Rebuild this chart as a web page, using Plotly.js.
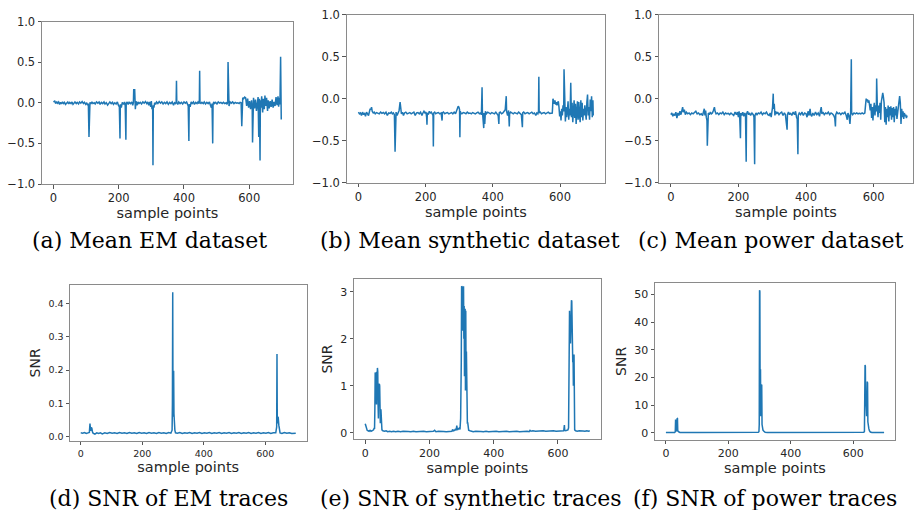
<!DOCTYPE html>
<html>
<head>
<meta charset="utf-8">
<script src="https://cdn.plot.ly/plotly-3.0.1.min.js"></script>
<style>html,body{margin:0;padding:0;background:#fff;}#chart{width:914px;height:510px;}</style>
</head>
<body>
<div id="chart"></div>
<script>
// ---- Data (sample index, value) ----
const meanEM = [
[0,0.01],[4,0.02],[7,-0.01],[10,0.015],[13,-0.005],[16,0.01],[19,-0.02],[22,0.005],[25,-0.015],[28,0.01],
[31,-0.01],[34,0.005],[37,-0.02],[40,0.0],[44,0.01],[47,-0.015],[50,0.005],[54,-0.01],[57,0.01],[60,-0.02],
[63,0.0],[66,0.01],[70,-0.01],[73,0.005],[77,-0.015],[80,0.01],[84,-0.005],[88,0.015],[92,-0.01],[95,0.005],
[99,-0.02],[102,0.0],[105,-0.03],[107,-0.01],[109,-0.42],[110,-0.02],[112,0.005],[115,-0.015],[118,0.01],[121,-0.01],
[125,0.0],[128,-0.015],[132,0.01],[136,-0.005],[140,0.01],[143,-0.02],[147,0.005],[151,-0.01],[155,0.01],[158,-0.015],
[162,0.0],[166,-0.03],[169,-0.01],[173,0.01],[177,-0.01],[181,0.005],[184,-0.02],[188,0.0],[192,-0.015],[196,0.01],
[199,-0.03],[202,-0.05],[204,-0.44],[205,-0.02],[208,-0.06],[211,0.005],[215,-0.02],[218,0.01],[220,-0.04],[222,-0.455],
[223,-0.01],[226,0.01],[229,-0.02],[232,0.005],[236,-0.01],[240,0.01],[243,-0.03],[245,0.0],[246,0.16],[249,0.16],
[251,-0.08],[253,0.02],[256,-0.03],[259,0.01],[262,-0.01],[266,0.005],[270,-0.015],[274,0.01],[278,-0.005],[282,0.015],
[286,-0.01],[289,0.01],[292,-0.03],[295,0.01],[298,-0.05],[300,0.02],[302,-0.08],[304,-0.05],[305,-0.77],[306,-0.03],
[308,-0.06],[310,0.0],[313,-0.02],[316,0.01],[320,-0.01],[324,0.015],[328,-0.005],[332,0.01],[336,-0.015],[340,0.005],
[344,-0.01],[348,0.01],[352,-0.02],[356,0.005],[360,-0.01],[364,0.01],[368,-0.03],[371,0.0],[374,-0.01],[376,0.01],
[377,0.27],[378,0.0],[381,-0.02],[384,0.01],[388,-0.01],[392,0.005],[396,-0.015],[400,0.01],[404,-0.005],[408,0.01],
[411,-0.02],[413,-0.04],[415,-0.47],[416,-0.02],[419,-0.05],[422,0.01],[425,-0.01],[429,0.01],[432,-0.02],[436,0.005],
[440,-0.01],[443,0.01],[446,-0.01],[447,0.0],[448,0.395],[449,0.0],[452,-0.01],[455,0.005],[459,-0.01],[462,0.01],
[466,-0.015],[470,0.005],[474,-0.01],[478,0.01],[481,-0.03],[484,-0.06],[486,-0.01],[488,-0.5],[489,-0.03],[491,0.01],
[494,-0.01],[497,0.005],[501,-0.015],[505,0.01],[509,-0.005],[513,0.005],[517,-0.01],[521,0.005],[525,-0.01],[529,0.0],
[532,-0.02],[534,0.02],[535,0.5],[536,0.0],[538,-0.04],[541,0.01],[545,-0.005],[549,0.01],[553,-0.01],[557,0.005],
[561,-0.005],[565,0.0],[569,-0.01],[572,0.005],[575,0.0],[577,-0.29],[578,0.0],[580,0.06],[583,0.05],[586,0.07],
[589,0.06],[592,-0.04],[595,0.05],[598,-0.06],[601,0.02],[604,-0.08],[607,0.03],[609,-0.05],[610,-0.49],[611,-0.02],
[613,0.06],[616,-0.07],[619,0.04],[622,-0.1],[625,0.02],[627,0.07],[629,-0.42],[631,0.05],[633,-0.71],[634,0.03],
[636,-0.06],[638,0.08],[641,-0.12],[643,0.05],[646,-0.08],[648,0.09],[650,-0.04],[653,0.06],[656,-0.1],[658,0.03],
[661,-0.07],[664,0.02],[667,-0.05],[670,0.04],[673,-0.06],[676,0.01],[679,-0.04],[682,0.07],[685,-0.03],[688,0.08],
[690,-0.05],[692,0.06],[694,-0.02],[696,0.565],[698,-0.205]
];

const meanSynthetic = [
[0,-0.16],[3,-0.18],[6,-0.17],[9,-0.2],[12,-0.16],[15,-0.19],[18,-0.17],[21,-0.21],[24,-0.16],[27,-0.18],
[30,-0.2],[33,-0.15],[35,-0.12],[37,-0.13],[39,-0.1],[41,-0.15],[44,-0.17],[47,-0.16],[50,-0.18],[54,-0.165],
[58,-0.17],[62,-0.18],[66,-0.16],[70,-0.175],[74,-0.165],[78,-0.18],[82,-0.16],[86,-0.2],[90,-0.17],[94,-0.175],
[98,-0.16],[101,-0.18],[104,-0.17],[107,-0.19],[109,-0.63],[110,-0.18],[112,-0.16],[115,-0.2],[118,-0.17],[121,-0.14],
[124,-0.04],[126,-0.12],[128,-0.18],[131,-0.16],[134,-0.2],[137,-0.17],[141,-0.16],[145,-0.18],[149,-0.17],[153,-0.165],
[157,-0.18],[161,-0.17],[165,-0.16],[169,-0.2],[173,-0.17],[177,-0.165],[181,-0.18],[185,-0.16],[189,-0.2],[192,-0.17],
[195,-0.15],[198,-0.17],[201,-0.16],[203,-0.22],[204,-0.31],[205,-0.17],[208,-0.19],[211,-0.15],[214,-0.17],[217,-0.16],
[220,-0.18],[222,-0.2],[223,-0.57],[224,-0.17],[227,-0.16],[230,-0.18],[234,-0.17],[238,-0.165],[242,-0.18],[246,-0.17],
[249,-0.26],[250,-0.17],[253,-0.16],[257,-0.18],[261,-0.17],[265,-0.165],[269,-0.18],[273,-0.17],[277,-0.165],[281,-0.18],
[285,-0.16],[289,-0.18],[292,-0.15],[295,-0.12],[297,-0.09],[299,-0.1],[301,-0.13],[302,-0.46],[303,-0.15],[305,-0.17],
[308,-0.18],[312,-0.165],[316,-0.17],[320,-0.18],[324,-0.16],[328,-0.175],[332,-0.17],[336,-0.18],[340,-0.165],[344,-0.17],
[348,-0.18],[352,-0.17],[356,-0.16],[360,-0.18],[364,-0.17],[366,-0.19],[368,0.135],[369,-0.15],[371,-0.22],[373,-0.35],
[374,-0.17],[376,-0.3],[378,-0.15],[381,-0.18],[385,-0.16],[389,-0.17],[393,-0.18],[397,-0.165],[401,-0.17],[405,-0.18],
[409,-0.16],[413,-0.18],[416,-0.2],[418,-0.3],[419,-0.17],[422,-0.16],[426,-0.18],[430,-0.17],[434,-0.15],[437,-0.13],
[440,0.03],[441,-0.15],[444,-0.2],[447,-0.14],[449,-0.33],[450,-0.18],[453,-0.16],[457,-0.17],[461,-0.18],[465,-0.165],
[469,-0.17],[473,-0.18],[477,-0.16],[481,-0.17],[485,-0.19],[488,-0.34],[489,-0.17],[492,-0.16],[496,-0.18],[500,-0.17],
[504,-0.165],[508,-0.18],[512,-0.17],[516,-0.16],[520,-0.18],[524,-0.17],[528,-0.2],[531,-0.17],[534,-0.18],[536,-0.15],
[537,0.26],[538,-0.17],[541,-0.16],[545,-0.18],[549,-0.17],[553,-0.165],[557,-0.18],[561,-0.17],[565,-0.16],[569,-0.175],
[573,-0.17],[577,-0.17],[578,-0.1],[579,0.0],[581,-0.03],[583,-0.06],[585,-0.02],[587,-0.07],[589,-0.04],[591,-0.08],
[593,-0.05],[595,-0.03],[597,-0.1],[599,-0.21],[601,-0.15],[603,-0.26],[605,-0.12],[607,-0.2],[609,-0.08],[611,-0.15],
[612,0.35],[614,-0.2],[616,-0.27],[618,-0.1],[620,-0.22],[622,-0.15],[624,-0.03],[626,-0.25],[628,-0.12],[630,-0.2],
[632,0.19],[634,-0.22],[636,-0.05],[638,-0.28],[640,-0.1],[642,-0.02],[644,-0.23],[646,-0.06],[648,-0.3],[650,-0.14],
[652,-0.03],[654,-0.25],[656,-0.04],[658,-0.19],[660,-0.28],[662,-0.02],[664,-0.22],[666,-0.05],[668,-0.26],[670,-0.12],
[672,-0.2],[674,-0.08],[676,-0.22],[678,-0.25],[680,-0.04],[682,0.05],[684,-0.2],[686,-0.1],[688,-0.25],[690,-0.01],
[692,-0.15],[694,0.03],[696,-0.22],[698,-0.02],[699,-0.2]
];

const meanPower = [
[0,-0.19],[3,-0.17],[6,-0.21],[9,-0.18],[12,-0.2],[15,-0.16],[18,-0.23],[21,-0.17],[24,-0.2],[27,-0.15],
[30,-0.19],[33,-0.14],[35,-0.1],[37,-0.16],[40,-0.13],[43,-0.19],[46,-0.16],[50,-0.18],[54,-0.17],[58,-0.19],
[62,-0.17],[66,-0.18],[70,-0.16],[74,-0.15],[78,-0.18],[82,-0.17],[86,-0.19],[90,-0.18],[94,-0.2],[97,-0.15],
[99,-0.12],[101,-0.2],[103,-0.14],[105,-0.22],[107,-0.26],[108,-0.56],[109,-0.2],[111,-0.17],[114,-0.19],[117,-0.16],
[120,-0.18],[123,-0.17],[126,-0.14],[129,-0.1],[131,-0.15],[134,-0.18],[138,-0.17],[142,-0.19],[146,-0.17],[150,-0.18],
[154,-0.16],[158,-0.19],[162,-0.17],[166,-0.18],[170,-0.175],[174,-0.19],[178,-0.17],[182,-0.18],[186,-0.2],[190,-0.16],
[194,-0.19],[197,-0.16],[200,-0.22],[202,-0.15],[204,-0.24],[206,-0.47],[207,-0.17],[210,-0.2],[213,-0.16],[216,-0.21],
[219,-0.17],[221,-0.2],[223,-0.75],[224,-0.18],[227,-0.15],[230,-0.19],[233,-0.17],[236,-0.2],[240,-0.17],[244,-0.19],
[246,-0.22],[248,-0.78],[249,-0.2],[252,-0.17],[255,-0.19],[259,-0.17],[263,-0.18],[267,-0.16],[271,-0.19],[275,-0.17],
[279,-0.18],[283,-0.16],[287,-0.19],[291,-0.2],[294,-0.17],[297,-0.22],[299,-0.15],[301,-0.1],[303,0.06],[304,-0.12],
[306,-0.06],[308,-0.2],[310,-0.15],[313,-0.18],[316,-0.16],[320,-0.19],[324,-0.17],[328,-0.16],[332,-0.2],[336,-0.17],
[339,-0.19],[341,-0.24],[344,-0.37],[345,-0.19],[348,-0.16],[351,-0.19],[354,-0.17],[358,-0.2],[362,-0.16],[366,-0.19],
[369,-0.15],[372,-0.22],[374,-0.24],[376,-0.66],[377,-0.2],[380,-0.17],[384,-0.19],[388,-0.16],[392,-0.2],[396,-0.17],
[400,-0.18],[403,-0.22],[406,-0.15],[409,-0.2],[412,-0.12],[414,-0.19],[417,-0.21],[420,-0.17],[424,-0.2],[428,-0.16],
[432,-0.19],[436,-0.17],[440,-0.21],[443,-0.14],[445,-0.1],[447,-0.18],[450,-0.16],[454,-0.19],[458,-0.17],[462,-0.18],
[466,-0.16],[470,-0.19],[474,-0.17],[478,-0.18],[482,-0.2],[485,-0.23],[487,-0.33],[488,-0.19],[491,-0.16],[495,-0.18],
[499,-0.17],[503,-0.19],[507,-0.17],[511,-0.18],[515,-0.16],[519,-0.2],[522,-0.25],[524,-0.17],[527,-0.2],[530,-0.3],
[532,-0.18],[534,0.47],[535,-0.17],[538,-0.19],[542,-0.17],[546,-0.18],[550,-0.17],[554,-0.18],[558,-0.175],[562,-0.18],
[566,-0.17],[570,-0.18],[574,-0.17],[576,-0.08],[578,0.0],[580,-0.02],[582,-0.01],[584,-0.05],[586,-0.02],[588,-0.08],
[590,-0.14],[592,-0.06],[594,-0.23],[596,-0.1],[598,-0.26],[600,-0.12],[602,-0.05],[604,-0.2],[606,-0.08],[608,-0.15],
[609,0.24],[611,-0.1],[613,-0.22],[615,-0.08],[617,-0.17],[619,-0.05],[621,-0.25],[623,-0.03],[625,0.05],[627,0.07],
[629,0.02],[631,-0.05],[633,-0.28],[635,-0.1],[637,-0.31],[639,-0.12],[641,-0.22],[643,-0.08],[645,-0.27],[647,-0.1],
[649,-0.2],[651,-0.09],[653,-0.25],[655,-0.11],[657,-0.22],[659,-0.1],[661,-0.28],[663,-0.12],[665,-0.2],[667,-0.09],
[669,-0.24],[671,-0.15],[673,-0.07],[675,-0.02],[677,0.03],[679,-0.05],[681,-0.3],[683,-0.12],[685,-0.22],[687,-0.15],
[689,-0.24],[691,-0.17],[693,-0.21],[695,-0.19],[697,-0.23],[699,-0.2]
];

const snrEM = [
[0,0.012],[6,0.011],[12,0.013],[18,0.010],[24,0.012],[28,0.013],[30,0.04],[32,0.018],[34,0.028],[36,0.026],
[38,0.015],[40,0.011],[46,0.008],[52,0.012],[58,0.010],[64,0.012],[70,0.009],[78,0.012],[86,0.010],[94,0.013],
[102,0.011],[110,0.012],[118,0.010],[126,0.013],[134,0.011],[142,0.012],[150,0.010],[158,0.013],[166,0.011],[174,0.012],
[182,0.010],[190,0.013],[198,0.011],[206,0.012],[214,0.010],[222,0.013],[230,0.011],[238,0.012],[246,0.010],[254,0.013],
[262,0.011],[270,0.012],[278,0.010],[286,0.013],[293,0.011],[297,0.02],[298,0.1],[299,0.433],[300,0.06],[301,0.19],
[302,0.198],[303,0.07],[304,0.04],[306,0.02],[308,0.012],[314,0.011],[322,0.013],[330,0.010],[338,0.012],[346,0.011],
[354,0.013],[362,0.010],[370,0.012],[378,0.011],[386,0.013],[394,0.010],[402,0.012],[410,0.011],[418,0.013],[426,0.010],
[434,0.012],[442,0.011],[450,0.013],[458,0.010],[466,0.012],[474,0.011],[482,0.013],[490,0.010],[498,0.012],[506,0.011],
[514,0.013],[522,0.010],[530,0.012],[538,0.011],[546,0.013],[554,0.010],[562,0.012],[570,0.011],[578,0.013],[586,0.010],
[594,0.012],[602,0.011],[610,0.013],[618,0.010],[626,0.012],[634,0.012],[637,0.03],[638,0.248],[639,0.04],[640,0.05],
[641,0.06],[642,0.058],[644,0.035],[646,0.02],[648,0.012],[654,0.010],[662,0.013],[670,0.011],[678,0.012],[686,0.010],
[694,0.012],[699,0.011]
];

const snrSynthetic = [
[0,0.19],[2,0.12],[4,0.07],[6,0.05],[9,0.04],[12,0.03],[15,0.05],[18,0.03],[21,0.04],[24,0.06],
[26,0.06],[28,0.1],[29,0.08],[30,0.5],[31,1.28],[32,0.7],[33,1.25],[34,1.2],[35,0.6],[36,1.3],
[37,1.1],[38,1.38],[39,1.3],[40,0.6],[41,0.3],[42,1.05],[43,0.8],[44,1.04],[45,1.0],[46,0.3],
[47,0.2],[48,0.5],[49,0.48],[50,0.1],[52,0.06],[55,0.04],[60,0.03],[65,0.04],[70,0.02],[76,0.03],
[82,0.02],[88,0.03],[95,0.02],[102,0.03],[110,0.02],[118,0.03],[126,0.02],[134,0.025],[142,0.02],[150,0.03],
[158,0.02],[166,0.025],[174,0.02],[182,0.03],[190,0.02],[198,0.025],[206,0.02],[212,0.03],[216,0.05],[220,0.02],
[228,0.03],[236,0.02],[244,0.025],[252,0.02],[260,0.03],[266,0.04],[270,0.03],[272,0.07],[275,0.04],[278,0.05],
[281,0.08],[283,0.05],[285,0.15],[287,0.06],[290,0.08],[293,0.1],[295,0.07],[297,0.3],[299,1.5],[300,3.12],
[301,2.4],[302,3.1],[303,2.17],[304,3.12],[305,2.6],[306,3.12],[307,2.0],[308,2.7],[309,1.2],[311,2.64],
[312,0.9],[313,2.6],[314,1.0],[315,1.73],[316,0.5],[317,1.72],[318,0.19],[319,0.22],[320,0.12],[322,0.05],
[326,0.04],[330,0.03],[336,0.02],[344,0.03],[352,0.02],[360,0.025],[368,0.02],[376,0.03],[384,0.02],[392,0.025],
[400,0.02],[408,0.03],[416,0.02],[424,0.025],[432,0.02],[440,0.03],[448,0.02],[456,0.025],[464,0.02],[472,0.03],
[480,0.02],[488,0.025],[496,0.02],[504,0.03],[510,0.02],[513,0.05],[516,0.03],[522,0.04],[530,0.03],[538,0.035],
[546,0.03],[554,0.04],[562,0.03],[570,0.035],[578,0.03],[586,0.04],[594,0.03],[602,0.035],[610,0.03],[616,0.04],
[618,0.04],[620,0.16],[621,0.05],[624,0.04],[628,0.05],[631,0.06],[633,0.1],[634,2.6],[635,2.55],[636,2.6],
[637,2.2],[638,2.3],[639,1.9],[640,2.7],[641,2.4],[642,2.82],[643,2.8],[644,2.0],[645,2.3],[646,1.5],
[647,1.64],[648,1.0],[649,1.66],[650,1.65],[651,0.2],[652,0.06],[655,0.04],[660,0.03],[666,0.04],[672,0.03],
[678,0.035],[684,0.03],[690,0.04],[695,0.03],[699,0.04]
];

const snrPower = [
[0,0.1],[10,0.1],[20,0.1],[28,0.1],[30,0.4],[31,4.8],[32,0.8],[34,0.6],[36,5.3],[37,5.2],
[38,0.7],[40,0.4],[42,0.3],[45,0.15],[50,0.1],[100,0.1],[150,0.1],[200,0.1],[250,0.1],[290,0.1],
[296,0.2],[298,0.4],[299,3.0],[300,51.5],[301,51.0],[302,8.0],[303,23.0],[304,6.0],[305,12.0],[306,17.4],
[307,17.2],[308,3.0],[309,1.2],[311,1.0],[314,0.6],[318,0.2],[325,0.1],[400,0.1],[500,0.1],[600,0.1],
[630,0.1],[634,0.2],[636,0.5],[637,8.0],[638,24.5],[639,24.0],[640,9.6],[641,12.0],[643,6.0],[645,18.5],
[646,18.0],[647,4.0],[648,1.8],[650,1.6],[652,0.8],[655,0.3],[660,0.1],[699,0.1]
];

const xTickVals = [0, 200, 400, 600];
const captions = ["(a) Mean EM dataset", "(b) Mean synthetic dataset", "(c) Mean power dataset",
                  "(d) SNR of EM traces", "(e) SNR of synthetic traces", "(f) SNR of power traces"];
const xLabel = "sample points";
const snrLabel = "SNR";

// ---- Build figure ----
const W = 914, H = 510;
const series = [meanEM, meanSynthetic, meanPower, snrEM, snrSynthetic, snrPower];
const lineColor = '#1f77b4';

const traces = series.map((s, i) => ({
  type: 'scatter', mode: 'lines',
  x: s.map(p => p[0]), y: s.map(p => p[1]),
  xaxis: i === 0 ? 'x' : 'x' + (i + 1),
  yaxis: i === 0 ? 'y' : 'y' + (i + 1),
  line: {color: lineColor, width: 1.5},
  hoverinfo: 'skip', showlegend: false
}));

// plot boxes in pixels [left, right, top, bottom]
const boxes = [
  [42, 293, 21.5, 184],
  [346.7, 605, 14.7, 182.7],
  [659, 913, 14.7, 182.7],
  [70, 306.5, 285, 440.7],
  [354, 601, 279, 439],
  [655, 895, 283.3, 439.5]
];
const xRanges = [[-34.95, 733.95], [-34.95, 733.95], [-34.95, 716.5],
                 [-34.95, 733.95], [-34.95, 733.95], [-34.95, 733.95]];
const yRanges = [[-1, 1], [-1, 1], [-1, 1], [-0.0115, 0.4545], [-0.135, 3.275], [-2.4, 54.0]];
const yTicks = [[-1, -0.5, 0, 0.5, 1], [-1, -0.5, 0, 0.5, 1], [-1, -0.5, 0, 0.5, 1],
                [0, 0.1, 0.2, 0.3, 0.4], [0, 1, 2, 3], [0, 10, 20, 30, 40, 50]];
const yFormats = ['.1f', '.1f', '.1f', '.1f', 'd', 'd'];
const tickSizes = [11.5, 11.5, 11.5, 9.5, 11, 11];

const layout = {
  width: W, height: H,
  margin: {l: 0, r: 0, t: 0, b: 0},
  paper_bgcolor: '#ffffff', plot_bgcolor: '#ffffff',
  font: {family: 'DejaVu Sans, sans-serif', color: '#262626'},
  showlegend: false,
  annotations: []
};

boxes.forEach((b, i) => {
  const xa = i === 0 ? 'xaxis' : 'xaxis' + (i + 1);
  const ya = i === 0 ? 'yaxis' : 'yaxis' + (i + 1);
  const common = {
    showline: true, mirror: true, linecolor: '#8a8a8a', linewidth: 1,
    ticks: 'outside', ticklen: 3.5, tickcolor: '#555', tickwidth: 1,
    showgrid: false, zeroline: false, fixedrange: true,
    tickfont: {family: 'DejaVu Sans, sans-serif', size: tickSizes[i], color: '#262626'}
  };
  layout[xa] = Object.assign({}, common, {
    domain: [b[0] / W, b[1] / W],
    range: xRanges[i],
    anchor: i === 0 ? 'y' : 'y' + (i + 1),
    tickmode: 'array', tickvals: xTickVals,
    title: {text: xLabel, font: {family: 'DejaVu Sans, sans-serif', size: 14.5, color: '#262626'}, standoff: 2}
  });
  layout[ya] = Object.assign({}, common, {
    domain: [1 - b[3] / H, 1 - b[2] / H],
    range: yRanges[i],
    anchor: i === 0 ? 'x' : 'x' + (i + 1),
    tickmode: 'array', tickvals: yTicks[i], tickformat: yFormats[i]
  });
  if (i >= 3) {
    layout[ya].title = {text: snrLabel, font: {family: 'DejaVu Sans, sans-serif', size: 14, color: '#262626'}, standoff: 4};
  }
});

const capPos = [[149, 240], [470, 240], [770, 240], [168, 498], [471, 498], [765, 498]];
captions.forEach((c, i) => {
  layout.annotations.push({
    text: c, xref: 'paper', yref: 'paper',
    x: capPos[i][0] / W, y: 1 - capPos[i][1] / H,
    xanchor: 'center', yanchor: 'middle', showarrow: false,
    font: {family: 'DejaVu Serif, serif', size: 22, color: '#000000'}
  });
});

Plotly.newPlot('chart', traces, layout, {staticPlot: true, displayModeBar: false});
</script>
</body>
</html>
